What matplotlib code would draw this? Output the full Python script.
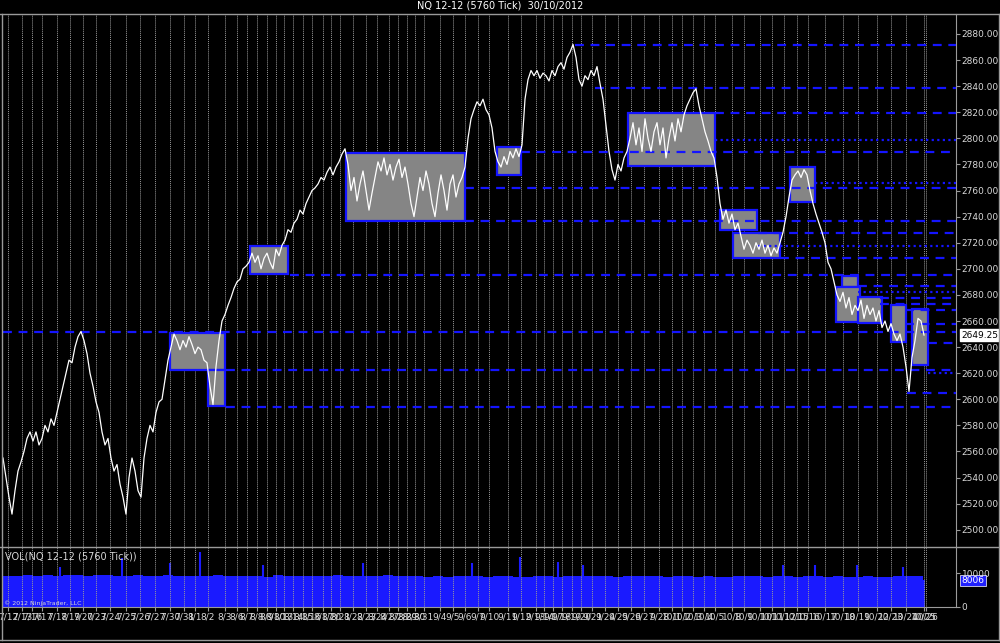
import numpy as np
import matplotlib
matplotlib.use("Agg")
import matplotlib.pyplot as plt
from matplotlib.lines import Line2D
from matplotlib.patches import Rectangle

# price samples every 3 bars, starting at bar 3
price = [
    2555, 2540, 2525, 2512, 2530, 2545, 2552, 2560, 2570, 2575, 2568, 2575, 2565, 2570, 2580, 2575,
    2585, 2580, 2590, 2600, 2610, 2620, 2630, 2628, 2640, 2648, 2652, 2645, 2635, 2620, 2610, 2598,
    2590, 2575, 2565, 2570, 2555, 2545, 2550, 2535, 2525, 2512, 2540, 2555, 2545, 2530, 2525, 2555,
    2570, 2580, 2575, 2590, 2598, 2600, 2615, 2630, 2640, 2650, 2645, 2638, 2645, 2640, 2648, 2642,
    2635, 2640, 2638, 2630, 2628, 2610, 2596, 2625, 2645, 2660, 2665, 2672, 2678, 2685, 2690, 2692,
    2700, 2702, 2705, 2712, 2705, 2710, 2700, 2708, 2712, 2705, 2700, 2715, 2710, 2718, 2722, 2730,
    2728, 2735, 2738, 2745, 2742, 2750, 2755, 2760, 2762, 2765, 2770, 2768, 2774, 2778, 2772, 2778,
    2782, 2788, 2792, 2780, 2760, 2770, 2752, 2765, 2775, 2760, 2745, 2758, 2770, 2782, 2775, 2785,
    2772, 2780, 2768, 2778, 2784, 2770, 2778, 2765, 2750, 2740, 2755, 2770, 2760, 2775, 2765, 2750,
    2740, 2758, 2772, 2760, 2745, 2765, 2772, 2755, 2765, 2770, 2778, 2800, 2815, 2822, 2828, 2825,
    2830, 2822, 2818, 2808, 2790, 2782, 2778, 2786, 2780, 2790, 2785, 2792, 2786, 2795, 2830, 2845,
    2852, 2848, 2852, 2846, 2850, 2848, 2844, 2852, 2848, 2855, 2858, 2853, 2862, 2866, 2872, 2862,
    2845, 2840, 2848, 2845, 2852, 2848, 2855, 2842, 2830, 2810, 2790, 2776, 2768, 2780, 2775, 2785,
    2790, 2800, 2812, 2795, 2808, 2790, 2815, 2800, 2790, 2805, 2812, 2795, 2808, 2785, 2800, 2812,
    2798, 2815, 2805, 2818, 2825, 2830, 2835, 2838, 2825, 2815, 2805, 2798, 2790, 2785, 2770, 2750,
    2738, 2745, 2735, 2742, 2730, 2735, 2725, 2715, 2722, 2718, 2712, 2720, 2715, 2722, 2712, 2718,
    2710, 2716, 2712, 2720, 2728, 2740, 2755, 2768, 2772, 2775, 2770, 2776, 2772, 2760, 2750, 2742,
    2735, 2728, 2720, 2705, 2700, 2690, 2680, 2675, 2682, 2670, 2678, 2665, 2672, 2668, 2676, 2662,
    2672, 2665, 2670, 2660, 2668, 2655, 2660, 2652, 2658, 2650, 2645, 2650, 2640, 2625, 2606, 2632,
    2645, 2662, 2660, 2649.25,
]
last_price = 2649.25

# session start bars and their labels
session_bars = [8, 22, 32, 42, 57, 70, 83, 96, 110, 126, 140, 155, 170, 184, 195, 208, 225, 237,
                247, 257, 267, 276, 284, 293, 303, 312, 323, 331, 340, 353, 366, 377, 389, 398,
                407, 415, 424, 440, 453, 465, 478, 489, 508, 521, 536, 544, 553, 562, 572, 581,
                592, 605, 618, 631, 644, 659, 672, 682, 693, 704, 715, 732, 744, 760, 772, 784,
                797, 808, 825, 843, 858, 877, 891, 906, 924, 926]
session_labels = (
    ["7/12", "7/13", "7/16", "7/17", "7/18", "7/19", "7/20", "7/23", "7/24", "7/25", "7/26",
     "7/27", "7/30", "7/31"]
    + ["8/%d" % d for d in [1, 2, 3, 6, 7, 8, 9, 10, 13, 14, 15, 16, 17, 20, 21, 22, 23, 24,
                            27, 28, 29, 30, 31]]
    + ["9/%d" % d for d in [4, 5, 6, 7, 10, 11, 12, 13, 14, 17, 18, 19, 20, 21, 24, 25, 26,
                            27, 28]]
    + ["10/%d" % d for d in [1, 2, 3, 4, 5, 8, 9, 10, 11, 12, 15, 16, 17, 18, 19, 22, 23, 24,
                             25, 26, 29]]
)

# consolidation boxes: (start bar, end bar, low, high)
box_x0 = [170, 208, 250, 346, 497, 628, 720, 733, 790, 842, 836, 858, 891, 912]
box_x1 = [225, 225, 288, 465, 521, 715, 757, 780, 815, 858, 860, 882, 906, 928]
box_lo = [2622.4, 2594.8, 2696.0, 2736.7, 2772.0, 2778.8, 2729.8, 2708.3, 2751.0, 2686.0,
          2659.0, 2658.5, 2643.9, 2626.3]
box_hi = [2650.8, 2622.4, 2717.5, 2788.8, 2793.4, 2819.4, 2745.0, 2727.5, 2778.0, 2694.5,
          2686.0, 2678.4, 2672.3, 2669.0]

# horizontal support / resistance levels: (start bar, price, dotted?)
level_x0 = [3, 226, 226, 290, 465, 465, 521, 575, 595, 715, 715, 758, 758, 780, 815, 858, 858,
            880, 880, 905, 905, 928, 907, 928]
level_px = [2651.6, 2622.4, 2594.1, 2695.3, 2736.7, 2762.0, 2789.5, 2871.6, 2838.6, 2819.4,
            2798.7, 2727.5, 2717.5, 2708.3, 2765.8, 2686.8, 2682.2, 2677.6, 2673.0, 2668.4,
            2657.7, 2643.1, 2604.8, 2620.0]
level_dot = [False, False, False, False, False, False, False, False, False, False, True, False,
             True, False, True, False, True, False, False, False, False, False, False, True]

# volume, one value per 10 bars from bar 3
volume = [
    9300, 9100, 9400, 9200, 9500, 9300, 9400, 9600, 9300, 9500, 9400, 9200, 9300, 9500, 9100,
    9300, 9400, 9200, 9300, 9100, 9200, 9400, 9300, 9100, 9200, 9300, 9000, 9400, 9200, 9300,
    9100, 9300, 9200, 9400, 9100, 9300, 9200, 9300, 9400, 9100, 9300, 9200, 9000, 9100, 9000,
    9300, 9100, 9200, 9000, 9100, 9200, 9000, 8900, 9100, 9200, 9000, 9100, 9300, 9200, 9100,
    9200, 9000, 9100, 9300, 9200, 9100, 9000, 9200, 9100, 9000, 9200, 9000, 8900, 9100, 9300,
    9200, 9000, 9100, 9300, 9000, 9100, 9200, 9000, 9100, 8900, 9000, 9100, 8900, 9000, 9200,
    9100, 9300, 8006,
]
vol_spike_bar = [60, 122, 170, 200, 263, 363, 472, 520, 558, 583, 783, 815, 857, 903]
vol_spike_val = [12000, 14500, 13000, 16500, 12500, 13000, 13000, 15000, 13500, 12500,
                 12500, 12500, 12500, 12000]

BG = "black"
GRID = "#9a9a9a"
BLUE = "#1414ff"
TXT = "#d8d8d8"

fig = plt.figure(figsize=(10, 6.43), dpi=100, facecolor=BG)
H = 643.0
ax = fig.add_axes([0.003, 1 - 547 / H, 0.953, (547 - 14) / H], facecolor=BG)
vax = fig.add_axes([0.003, 1 - 607 / H, 0.953, (607 - 547) / H], facecolor=BG, sharex=ax)

bars = np.arange(len(price)) * 3 + 3

# day separators
for b in session_bars:
    ax.axvline(b, color=GRID, lw=0.7, ls=(0, (1, 1)), zorder=1)
    vax.axvline(b, color=GRID, lw=0.7, ls=(0, (1, 1)), zorder=3)

# boxes
for x0, x1, lo, hi in zip(box_x0, box_x1, box_lo, box_hi):
    ax.add_patch(Rectangle((x0, lo), x1 - x0, hi - lo, facecolor="#858585",
                           edgecolor=BLUE, lw=1.6, zorder=2))

# levels, run out to the right edge
for x0, lvl, dot in zip(level_x0, level_px, level_dot):
    ax.hlines(lvl, x0, 956, color=BLUE, lw=1.6,
              linestyles=(0, (1, 1.5)) if dot else (0, (4, 3)), zorder=3)

ax.plot(bars, price, color="white", lw=0.9, zorder=4)

ax.set_xlim(3, 956)
ax.set_ylim(2486.8, 2895.3)
ax.yaxis.tick_right()
ax.set_yticks(np.arange(2500, 2881, 20))
ax.set_yticklabels(["%.2f" % v for v in np.arange(2500, 2881, 20)])
ax.tick_params(axis="y", colors=GRID, labelcolor=TXT, labelsize=6.5, length=3, pad=1)
ax.tick_params(axis="x", bottom=False, labelbottom=False)
for s in ["left", "top", "bottom"]:
    ax.spines[s].set_visible(False)
ax.spines["right"].set_color(GRID)

# last price marker
ax.annotate("%.2f" % last_price, xy=(1.0, last_price), xycoords=("axes fraction", "data"),
            xytext=(4, 0), textcoords="offset points", va="center", ha="left",
            fontsize=6.5, color="black",
            bbox=dict(boxstyle="square,pad=0.12", fc="white", ec="white"))

# volume panel
vbars = np.arange(len(volume)) * 10 + 3
vax.fill_between(np.append(vbars, vbars[-1] + 2), 0, np.append(volume, volume[-1]),
                 step="post", color="#1a1aff", lw=0, zorder=2)
vax.vlines(vol_spike_bar, 0, vol_spike_val, color="#1a1aff", lw=1.5, zorder=2)
vax.set_ylim(0, 17900)
vax.yaxis.tick_right()
vax.set_yticks([0, 10000])
vax.set_yticklabels(["0", "10000"])
vax.tick_params(axis="y", colors=GRID, labelcolor=TXT, labelsize=6.5, length=3, pad=1)
vax.set_xticks(session_bars)
vax.set_xticklabels(session_labels[:len(session_bars)])
vax.tick_params(axis="x", colors=GRID, labelcolor=TXT, labelsize=6.5, length=3, pad=1)
for s in ["left", "top"]:
    vax.spines[s].set_visible(False)
vax.spines["right"].set_color(GRID)
vax.spines["bottom"].set_color(GRID)
vax.annotate("%d" % volume[-1], xy=(1.0, volume[-1]), xycoords=("axes fraction", "data"),
             xytext=(4, 0), textcoords="offset points", va="center", ha="left",
             fontsize=6.5, color="white",
             bbox=dict(boxstyle="square,pad=0.12", fc="#2020ff", ec="white", lw=0.5))
vax.text(0.002, 0.93, "VOL(NQ 12-12 (5760 Tick))", transform=vax.transAxes, color=TXT,
         fontsize=7, va="top", ha="left")
vax.text(0.001, 0.02, "© 2012 NinjaTrader, LLC", transform=vax.transAxes, color=TXT,
         fontsize=4.5, va="bottom", ha="left")

# frame lines
for y in [13.5, 547, 640]:
    fig.add_artist(Line2D([0, 1], [1 - y / H, 1 - y / H], color=GRID, lw=1))
for x in [1.5, 998.5]:
    fig.add_artist(Line2D([x / 1000, x / 1000], [1 - 640 / H, 1 - 13.5 / H], color=GRID, lw=1))

fig.text(0.5, 1 - 6 / H, "NQ 12-12 (5760 Tick)  30/10/2012", color="white", fontsize=7,
         ha="center", va="center")

fig.savefig("out.png", dpi=100, facecolor=BG)
